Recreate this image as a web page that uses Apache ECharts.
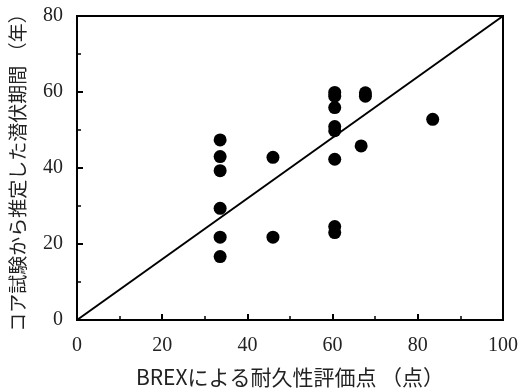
<!DOCTYPE html>
<html>
<head>
<meta charset="utf-8">
<script src="https://cdn.jsdelivr.net/npm/echarts@6/dist/echarts.min.js"></script>
<style>html,body{margin:0;padding:0;background:#fff;}#c{width:522px;height:389px;}</style>
</head>
<body>
<div id="c"></div>
<script>
const xVals = [33.6, 33.6, 33.6, 33.6, 33.6, 33.6, 46.0, 46.0, 60.5, 60.5, 60.5, 60.5, 60.5, 60.5, 60.5, 60.5, 67.7, 67.7, 66.7, 83.5];
const yVals = [47.4, 43.0, 39.3, 29.4, 21.8, 16.7, 42.8, 21.8, 59.9, 58.9, 55.9, 50.9, 49.8, 42.3, 24.6, 23.0, 59.8, 58.9, 45.8, 52.8];
const lineX = [0, 100];
const lineY = [0, 80];
const xTicks = [0, 20, 40, 60, 80, 100];
const yTicks = [0, 20, 40, 60, 80];
const xTitle = 'BREXによる耐久性評価点 （点）';
const yTitle = 'コア試験から推定した潜伏期間 （年）';

const chart = echarts.init(document.getElementById('c'), null, {renderer: 'canvas'});
const labelStyle = {fontFamily: 'Liberation Serif', fontSize: 20, color: '#222'};
chart.setOption({
  animation: false,
  backgroundColor: '#fff',
  grid: {left: 77, right: 19, top: 16, bottom: 69, show: true, borderColor: '#000', borderWidth: 2, containLabel: false, outerBoundsMode: 'none'},
  xAxis: {
    type: 'value', min: xTicks[0], max: xTicks[xTicks.length - 1], interval: 20,
    name: xTitle, nameLocation: 'middle', nameGap: 47,
    nameTextStyle: {fontFamily: 'Noto Sans CJK JP', fontSize: 21, color: '#222'},
    axisLine: {show: true, lineStyle: {color: '#000', width: 2}},
    axisTick: {show: true, inside: true, length: 6, lineStyle: {color: '#000', width: 2}},
    minorTick: {show: true, splitNumber: 2, length: 4, lineStyle: {color: '#000', width: 1.5}},
    splitLine: {show: false},
    axisLabel: Object.assign({margin: 16}, labelStyle)
  },
  yAxis: {
    type: 'value', min: yTicks[0], max: yTicks[yTicks.length - 1], interval: 20,
    name: yTitle, nameLocation: 'middle', nameGap: 50,
    nameTextStyle: {fontFamily: 'Noto Sans CJK JP', fontSize: 19, color: '#222'},
    axisLine: {show: true, lineStyle: {color: '#000', width: 2}},
    axisTick: {show: true, inside: true, length: 6, lineStyle: {color: '#000', width: 2}},
    minorTick: {show: true, splitNumber: 2, length: 4, lineStyle: {color: '#000', width: 1.5}},
    splitLine: {show: false},
    axisLabel: Object.assign({margin: 14}, labelStyle)
  },
  series: [
    {
      type: 'line', data: lineX.map((x, i) => [x, lineY[i]]), symbol: 'none',
      lineStyle: {color: '#000', width: 2}, silent: true, z: 2
    },
    {
      type: 'scatter', data: xVals.map((x, i) => [x, yVals[i]]), symbol: 'circle', symbolSize: 13,
      itemStyle: {color: '#000', opacity: 1}, z: 3
    }
  ]
});
</script>
</body>
</html>
